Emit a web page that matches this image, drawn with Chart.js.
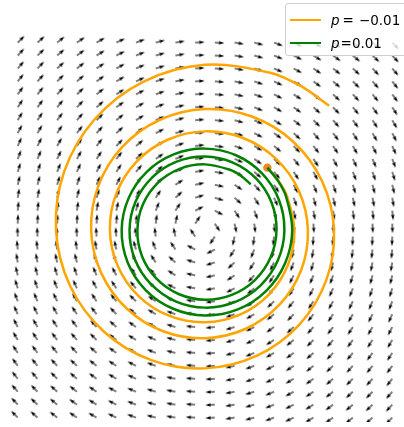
<!DOCTYPE html>
<html>
<head>
<meta charset="utf-8">
<script src="https://cdn.jsdelivr.net/npm/chart.js@4.4.1/dist/chart.umd.min.js"></script>
<style>
  body { margin: 0; background: #fff; overflow: hidden; }
  #wrap { position: relative; width: 404px; height: 427px; overflow: hidden; }
  .legend {
    position: absolute; left: 285px; top: 3px; width: 130px; height: 51px;
    border: 1px solid #d0d0d0; border-radius: 3px; background: rgba(255,255,255,0.8);
    font-family: "DejaVu Sans", sans-serif; font-size: 13.5px; color: #000;
  }
  .row { position: absolute; left: 0; height: 20px; display: flex; align-items: center; white-space: nowrap; }
  .swatch { width: 31px; height: 2.5px; margin-left: 4px; margin-right: 10px; }
  .row i { font-style: italic; }
</style>
</head>
<body>
<div id="wrap">
  <canvas id="myChart" width="404" height="427"></canvas>
  <div class="legend" id="legend"></div>
</div>
<script>
// grid of the direction field
const gridX = [-2, -1.789, -1.579, -1.368, -1.158, -0.947, -0.737, -0.526, -0.316, -0.105,
    0.105, 0.316, 0.526, 0.737, 0.947, 1.158, 1.368, 1.579, 1.789, 2]
const gridY = [-2, -1.862, -1.724, -1.586, -1.448, -1.310, -1.172, -1.034, -0.897, -0.759,
    -0.621, -0.483, -0.345, -0.207, -0.069, 0.069, 0.207, 0.345, 0.483, 0.621,
    0.759, 0.897, 1.034, 1.172, 1.310, 1.448, 1.586, 1.724, 1.862, 2]

// both trajectories: 3 clockwise turns from the same start, read every 22.5 degrees
const turnAngle = [45, 33.75, 22.5, 0, -22.5, -45, -67.5, -90, -112.5, -135, -157.5, -180, -202.5,
    -225, -247.5, -270, -292.5, -315, -337.5, -360, -382.5, -405, -427.5, -450, -472.5,
    -495, -517.5, -540, -562.5, -585, -607.5, -630, -652.5, -675, -697.5, -720, -742.5,
    -765, -787.5, -810, -832.5, -855, -877.5, -900, -922.5, -945, -967.5, -990, -1012.5, -1023.75, -1035]
// distance from the origin, p = -0.01 (grows outward)
const orangeR = [0.942, 0.945, 0.948, 0.954, 0.961, 0.968, 0.975, 0.983, 0.991, 0.999, 1.007, 1.016, 1.024,
    1.033, 1.043, 1.053, 1.063, 1.074, 1.086, 1.099, 1.112, 1.125, 1.139, 1.153, 1.168,
    1.183, 1.199, 1.216, 1.233, 1.252, 1.271, 1.291, 1.311, 1.333, 1.355, 1.378, 1.401,
    1.425, 1.450, 1.475, 1.501, 1.529, 1.559, 1.591, 1.628, 1.669, 1.714, 1.763, 1.817, 1.846, 1.876]
// distance from the origin, p = 0.01 (shrinks inward)
const greenR = [0.942, 0.940, 0.937, 0.932, 0.926, 0.921, 0.916, 0.911, 0.905, 0.900, 0.895, 0.890, 0.884,
    0.879, 0.874, 0.869, 0.864, 0.858, 0.853, 0.848, 0.843, 0.837, 0.832, 0.827, 0.822,
    0.816, 0.811, 0.806, 0.801, 0.796, 0.790, 0.785, 0.780, 0.775, 0.769, 0.764, 0.759,
    0.754, 0.748, 0.743, 0.738, 0.733, 0.728, 0.722, 0.717, 0.712, 0.707, 0.701, 0.696, 0.694, 0.691]
const labels = ['p = −0.01', 'p = 0.01']

const toPoints = (rs) => rs.map((r, i) => {
    const a = turnAngle[i] * Math.PI / 180
    return { x: r * Math.cos(a), y: r * Math.sin(a) }
})
const orangePts = toPoints(orangeR)
const greenPts = toPoints(greenR)

// small quiver arrow, tail in the middle of the canvas, pointing right
const arrow = document.createElement('canvas')
arrow.width = 24
arrow.height = 24
const a = arrow.getContext('2d')
a.translate(12, 12)
const L = 9.5, w = 1.1
a.beginPath()
a.moveTo(0, -w / 2)
a.lineTo(L - 4.5 * w, -w / 2)
a.lineTo(L - 5 * w, -1.5 * w)
a.lineTo(L, 0)
a.lineTo(L - 5 * w, 1.5 * w)
a.lineTo(L - 4.5 * w, w / 2)
a.lineTo(0, w / 2)
a.closePath()
a.fillStyle = '#000'
a.fill()

const field = []
gridY.forEach(y => gridX.forEach(x => field.push({ x: x, y: y })))

const ctx = document.getElementById('myChart')
new Chart(ctx, {
    type: 'scatter',
    data: {
        datasets: [{
            label: 'field',
            data: field,
            pointStyle: arrow,
            // arrows run clockwise round the origin
            rotation: c => Math.atan2(c.raw.x, c.raw.y) * 180 / Math.PI,
            order: 4
        }, {
            // line type so the tension is really applied
            type: 'line',
            label: labels[0],
            data: orangePts,
            borderColor: '#ffa500',
            borderWidth: 2.5,
            tension: 0.34,
            fill: false,
            pointRadius: 0,
            order: 3
        }, {
            label: 'start',
            data: [orangePts[0]],
            pointRadius: 4.2,
            backgroundColor: '#f5861f',
            borderWidth: 0,
            order: 2
        }, {
            type: 'line',
            label: labels[1],
            data: greenPts,
            borderColor: '#008000',
            borderWidth: 2.5,
            tension: 0.34,
            fill: false,
            pointRadius: 0,
            order: 1
        }]
    },
    options: {
        responsive: false,
        animation: false,
        events: [],
        layout: { padding: 0 },
        plugins: { legend: { display: false }, tooltip: { enabled: false } },
        scales: {
            x: { type: 'linear', display: false, min: -2.136, max: 2.072 },
            y: { type: 'linear', display: false, min: -2.047, max: 2.401 }
        }
    }
})

// legend drawn over the plot like matplotlib does
const legend = document.getElementById('legend')
legend.innerHTML =
    '<div class="row" style="top:6px"><span class="swatch" style="background:#ffa500"></span>' +
    '<i>p</i><span style="margin-left:3px">=</span><span style="margin-left:5px">\u22120.01</span></div>' +
    '<div class="row" style="top:29px"><span class="swatch" style="background:#008000"></span>' +
    '<i>p</i><span style="margin-left:1px">=</span><span>0.01</span></div>'
</script>
</body>
</html>
